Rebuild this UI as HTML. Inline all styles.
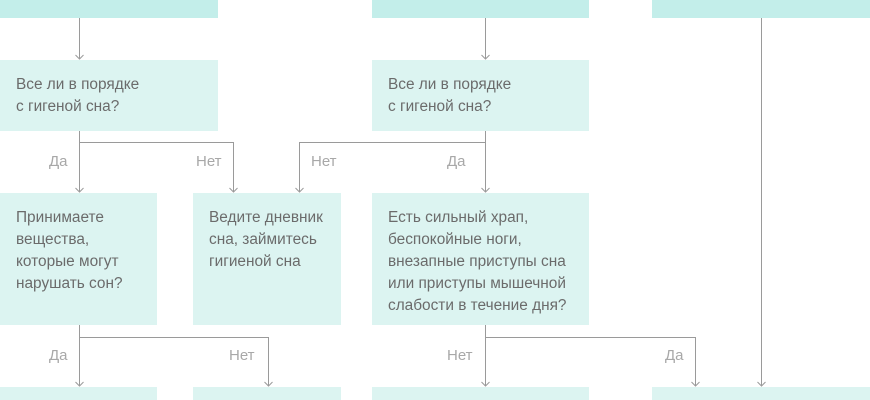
<!DOCTYPE html>
<html><head><meta charset="utf-8"><style>
body{margin:0;width:870px;height:400px;overflow:hidden;background:#fff;position:relative;font-family:"Liberation Sans",sans-serif}
.b{position:absolute;background:#dcf4f1;color:#6b6b6b;font-size:15.4px;line-height:22px;box-sizing:border-box;padding:14px 16px}
.e{padding:0}
.d{background:#c3eeea}
.l{position:absolute;color:#a8a8a8;font-size:15px}
svg{position:absolute;left:0;top:0}
</style></head><body>
<div class="b d e" style="left:0;top:0;width:218px;height:18px"></div>
<div class="b d e" style="left:372px;top:0;width:217px;height:18px"></div>
<div class="b d e" style="left:652px;top:0;width:218px;height:18px"></div>
<div class="b" style="left:0;top:60px;width:218px;height:71px">Все ли в порядке<br>с гигеной сна?</div>
<div class="b" style="left:372px;top:60px;width:217px;height:71px">Все ли в порядке<br>с гигеной сна?</div>
<div class="b" style="left:0;top:193px;width:157px;height:132px">Принимаете<br>вещества,<br>которые могут<br>нарушать сон?</div>
<div class="b" style="left:193px;top:193px;width:148px;height:132px">Ведите дневник<br>сна, займитесь<br>гигиеной сна</div>
<div class="b" style="left:372px;top:193px;width:217px;height:132px">Есть сильный храп,<br>беспокойные ноги,<br>внезапные приступы сна<br>или приступы мышечной<br>слабости в течение дня?</div>
<div class="b e" style="left:0;top:387px;width:157px;height:13px"></div>
<div class="b e" style="left:193px;top:387px;width:148px;height:13px"></div>
<div class="b e" style="left:372px;top:387px;width:217px;height:13px"></div>
<div class="b e" style="left:652px;top:387px;width:218px;height:13px"></div>
<svg width="870" height="400" fill="none" stroke="#9a9a9a" stroke-width="1">
<path d="M79.5 18V59M485.5 18V59M761.5 18V386"/>
<path d="M79.5 131V192M79.5 142.5H233.5V192M485.5 131V192M485.5 142.5H299.5V192"/>
<path d="M79.5 325V386M79.5 337.5H268.5V386M485.5 325V386M485.5 337.5H695.5V386"/>
<g stroke-width="1">
<path d="M75.5 55l4 4 4-4M481.5 55l4 4 4-4M757.5 382l4 4 4-4"/>
<path d="M75.5 188l4 4 4-4M229.5 188l4 4 4-4M481.5 188l4 4 4-4M295.5 188l4 4 4-4"/>
<path d="M75.5 382l4 4 4-4M264.5 382l4 4 4-4M481.5 382l4 4 4-4M691.5 382l4 4 4-4"/>
</g></svg>
<div class="l" style="left:49px;top:153px">Да</div>
<div class="l" style="left:196px;top:153px">Нет</div>
<div class="l" style="left:311px;top:153px">Нет</div>
<div class="l" style="left:447px;top:153px">Да</div>
<div class="l" style="left:49px;top:347px">Да</div>
<div class="l" style="left:229px;top:347px">Нет</div>
<div class="l" style="left:447px;top:347px">Нет</div>
<div class="l" style="left:665px;top:347px">Да</div>
</body></html>
